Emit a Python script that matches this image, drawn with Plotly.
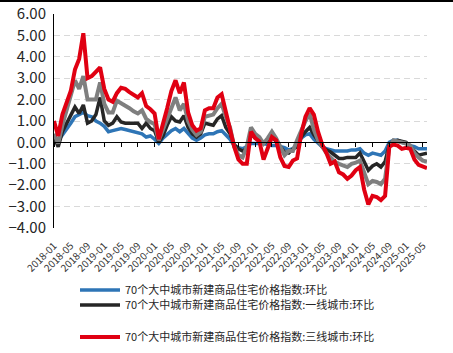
import plotly.graph_objects as go

# Months 2018-01 .. 2025-06
months = [f"{y}-{m:02d}" for y in range(2018, 2026) for m in range(1, 13)][:90]
tick_labels = months[::4]

name_all = "70个大中城市新建商品住宅价格指数:环比"
name_t1 = "70个大中城市新建商品住宅价格指数:一线城市:环比"
name_t2 = "70个大中城市新建商品住宅价格指数:二线城市:环比"
name_t3 = "70个大中城市新建商品住宅价格指数:三线城市:环比"

blue = [0.25, 0.1, 0.35, 0.6, 0.9, 1.2, 1.3, 1.4, 1.25, 1.2,
        1.0, 0.9, 0.75, 0.5, 0.55, 0.6, 0.65, 0.6, 0.55, 0.5,
        0.45, 0.4, 0.25, 0.3, 0.15, -0.05, 0.2, 0.4, 0.55, 0.65,
        0.5, 0.65, 0.4, 0.2, 0.1, 0.2, 0.35, 0.4, 0.4, 0.5,
        0.55, 0.35, 0.15, -0.15, -0.25, -0.3, -0.2, -0.05, -0.05, -0.05,
        -0.05, -0.1, -0.15, -0.15, -0.2, -0.25, -0.35, -0.3, -0.1, 0.2,
        0.35, 0.4, 0.15, -0.05, -0.2, -0.3, -0.35, -0.4, -0.4, -0.4,
        -0.4, -0.35, -0.35, -0.3, -0.5, -0.6, -0.5, -0.55, -0.6, -0.4,
        0.0, 0.1, 0.1, 0.0, -0.05, -0.15, -0.2, -0.3, -0.3, -0.3]

black = [0.25, -0.2, 0.5, 0.9, 1.3, 1.65, 1.35, 1.75, 0.9, 1.0,
         1.3, 2.1, 1.0, 0.8, 0.9, 1.2, 0.95, 0.9, 0.9, 0.9,
         0.9, 0.65, 0.9, 0.65, 0.55, 0.0, 0.3, 0.8, 1.2, 1.0,
         0.95, 1.25, 0.7, 0.4, 0.25, 0.4, 0.9, 0.85, 0.8, 1.1,
         1.25, 0.7, 0.4, -0.1, -0.3, -0.4, -0.3, 0.4, 0.2, 0.1,
         -0.05, 0.1, 0.25, 0.05, -0.2, -0.45, -0.5, -0.3, -0.2, 0.25,
         0.5, 0.7, 0.35, 0.05, -0.2, -0.35, -0.45, -0.6, -0.75, -0.75,
         -0.7, -0.7, -0.7, -0.5, -0.9, -1.3, -1.1, -1.0, -1.15, -0.9,
         -0.1, 0.05, 0.1, 0.05, 0.0, -0.2, -0.4, -0.6, -0.55, -0.5]

gray = [0.4, -0.05, 0.8, 1.5, 2.1, 2.9, 2.5, 3.1, 2.0, 2.0,
        2.0, 2.8, 1.8, 1.4, 1.4, 1.95, 1.85, 1.7, 1.6, 1.45,
        1.35, 1.5, 1.1, 0.95, 0.85, 0.1, 0.6, 1.2, 1.7, 2.1,
        1.5, 1.8, 1.0, 0.6, 0.35, 0.5, 1.2, 1.25, 1.3, 1.6,
        1.8, 1.2, 0.7, -0.2, -0.6, -0.7, -0.2, 0.7, 0.4, 0.25,
        -0.05, 0.2, 0.5, 0.2, -0.2, -0.6, -0.4, -0.4, 0.1, 0.6,
        1.0, 1.35, 0.6, 0.1, -0.2, -0.5, -0.7, -0.9, -1.0, -1.1,
        -1.15, -1.0, -0.95, -0.85, -1.4, -1.95, -1.8, -1.85, -1.95, -1.7,
        -0.2, 0.1, 0.05, 0.0, -0.05, -0.15, -0.5, -0.7, -0.85, -0.9]

red = [1.0, 0.3, 1.3, 1.8, 2.4, 3.4, 3.9, 5.1, 3.0, 3.1,
       3.3, 3.5, 2.5, 2.0, 1.9, 2.3, 2.55, 2.5, 2.35, 2.2,
       2.1, 2.3, 1.7, 1.55, 1.35, 0.15, 0.8, 1.6, 2.4, 2.9,
       2.3, 2.8, 1.4, 0.8, 0.55, 0.65, 1.5, 1.6, 1.6, 2.1,
       2.25, 1.4, 0.7, -0.2, -0.8, -1.0, -1.0, 0.5, 0.2, 0.05,
       -0.8, -0.2, 0.25, 0.1, -0.7, -1.1, -1.15, -0.85, -0.75, 0.4,
       1.2, 1.6, 1.3, 0.5, -0.1, -0.5, -1.0, -0.9, -1.4, -1.5,
       -1.7, -1.55, -1.3, -1.15, -2.2, -2.9, -2.5, -2.55, -2.7, -2.5,
       -0.2, -0.1, -0.15, -0.3, -0.25, -0.3, -0.8, -1.05, -1.15, -1.2]

y_ticks = [-4, -3, -2, -1, 0, 1, 2, 3, 4, 5, 6]
x_index = list(range(len(months)))

C_BLUE = "#2E75B6"
C_BLACK = "#262626"
C_GRAY = "#7F7F7F"
C_RED = "#E00012"
FONT = "Noto Sans CJK SC"

fig = go.Figure()
fig.add_trace(go.Scatter(x=x_index, y=blue, mode="lines", name=name_all,
                         line=dict(color=C_BLUE, width=3.5), legend="legend"))
fig.add_trace(go.Scatter(x=x_index, y=black, mode="lines", name=name_t1,
                         line=dict(color=C_BLACK, width=3.5), legend="legend2"))
fig.add_trace(go.Scatter(x=x_index, y=gray, mode="lines", name=name_t2,
                         line=dict(color=C_GRAY, width=4), showlegend=False))
fig.add_trace(go.Scatter(x=x_index, y=red, mode="lines", name=name_t3,
                         line=dict(color=C_RED, width=4), legend="legend3"))
# invisible carrier for the zero-line tick axis
fig.add_trace(go.Scatter(x=x_index, y=gray, mode="lines", showlegend=False,
                         line=dict(color="rgba(0,0,0,0)", width=1),
                         hoverinfo="skip", xaxis="x2"))

tick_pos = x_index[::4]
axis_common = dict(range=[0, len(months) - 1], tickvals=tick_pos, automargin=False)


def leg(ypix):
    return dict(xref="container", yref="container", x=75 / 453, y=1 - ypix / 353,
                xanchor="left", yanchor="middle", itemwidth=40,
                font=dict(size=11, color="#262626"), bgcolor="rgba(0,0,0,0)")


fig.update_layout(
    width=453, height=353,
    margin=dict(l=54, r=26, t=14, b=125, autoexpand=False),
    paper_bgcolor="white", plot_bgcolor="white",
    font=dict(family=FONT, color="#404040"),
    xaxis=dict(**axis_common, ticktext=tick_labels, showgrid=False, showline=False,
               ticks="", tickangle=-45, zeroline=False, ticklabelstandoff=9,
               tickfont=dict(size=10, color="#333333")),
    xaxis2=dict(**axis_common, overlaying="x", anchor="free", position=0.4,
                showgrid=False, showline=True, linecolor="black", linewidth=1,
                ticks="outside", ticklen=4, tickcolor="black", zeroline=False,
                showticklabels=False),
    yaxis=dict(range=[-4, 6], tickvals=y_ticks, tickformat=".2f", automargin=False,
               showgrid=True, gridcolor="#D9D9D9", griddash="6px,4px", gridwidth=1,
               zeroline=True, zerolinecolor="black", zerolinewidth=1,
               showline=True, linecolor="black", linewidth=1,
               ticks="", ticklabelstandoff=4,
               tickfont=dict(size=15, color="#262626")),
    legend=leg(290),
    legend2=leg(305),
    legend3=leg(337),
    shapes=[dict(type="line", xref="paper", yref="paper",
                 x0=-54 / 373, x1=1 + 26 / 373, y0=1 + 13 / 214, y1=1 + 13 / 214,
                 line=dict(color="black", width=2))],
)

fig.write_html("out.html")
